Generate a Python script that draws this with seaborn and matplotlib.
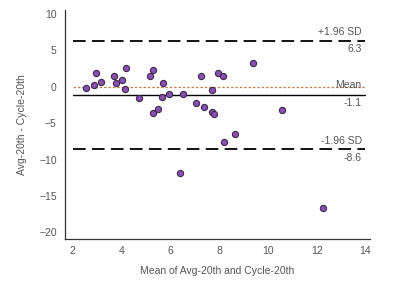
import matplotlib
matplotlib.use('Agg')
import matplotlib.pyplot as plt
import pandas as pd
import seaborn as sns
from matplotlib.ticker import MultipleLocator

# Bland-Altman data
mean_vals = [2.54, 2.86, 2.97, 3.16, 3.71, 3.77, 4.00, 4.19, 4.15, 4.71,
             5.17, 5.29, 5.27, 5.51, 5.72, 5.67, 5.94, 6.51, 7.05, 7.25,
             7.38, 7.69, 7.80, 7.69, 7.95, 8.15, 9.38, 10.58, 8.20, 8.67,
             6.38, 12.26]
diff_vals = [-0.25, 0.20, 1.94, 0.62, 1.44, 0.44, 0.93, 2.58, -0.38, -1.53,
             1.48, 2.30, -3.67, -3.08, 0.44, -1.40, -1.03, -1.03, -2.20, 1.40,
             -2.85, -3.50, -3.72, -0.43, 1.94, 1.53, 3.22, -3.26, -7.56, -6.50,
             -11.80, -16.60]
mean_diff = -1.1
upper_loa = 6.3
lower_loa = -8.6

df = pd.DataFrame({'mean': mean_vals, 'diff': diff_vals})

sns.set_style('white')
plt.rcParams['font.family'] = ['Liberation Sans', 'DejaVu Sans']
txt = '#555555'

fig = plt.figure(figsize=(4, 3.07), dpi=100)
ax = fig.add_axes([0.1625, 0.2215, 0.7625, 0.7455])

sns.scatterplot(data=df, x='mean', y='diff', ax=ax, s=20,
                color='#8a4fb0', edgecolor='#3a2a4a', linewidth=0.8, zorder=3)

# reference lines
ax.plot([2, 14], [upper_loa, upper_loa], color='black', lw=1.3, dashes=(7, 3.5))
ax.plot([2, 14], [lower_loa, lower_loa], color='black', lw=1.3, dashes=(7, 3.5))
ax.plot([2, 14], [mean_diff, mean_diff], color='black', lw=1.0)
ax.plot([2, 14], [0, 0], color='#c8804a', lw=0.9, dashes=(2, 1.5))

fs = 7.5
ax.text(13.85, upper_loa + 0.5, '+1.96 SD', ha='right', va='bottom', fontsize=fs, color=txt)
ax.text(13.85, upper_loa - 0.5, '6.3', ha='right', va='top', fontsize=fs, color=txt)
ax.text(13.85, mean_diff + 0.6, 'Mean', ha='right', va='bottom', fontsize=fs, color=txt)
ax.text(13.85, mean_diff - 0.5, '-1.1', ha='right', va='top', fontsize=fs, color=txt)
ax.text(13.85, lower_loa + 0.5, '-1.96 SD', ha='right', va='bottom', fontsize=fs, color=txt)
ax.text(13.85, lower_loa - 0.5, '-8.6', ha='right', va='top', fontsize=fs, color=txt)

ax.set(xlim=(1.68, 14.19), ylim=(-20.9, 10.5))
ax.xaxis.set_major_locator(MultipleLocator(2))
ax.xaxis.set_minor_locator(MultipleLocator(1))
ax.yaxis.set_major_locator(MultipleLocator(5))
ax.tick_params(axis='x', direction='in', length=4, width=0.8, colors='#333333',
               labelcolor=txt, labelsize=fs, pad=5)
ax.tick_params(axis='x', which='minor', direction='in', length=2, width=0.7, colors='#333333')
ax.tick_params(axis='y', direction='out', length=4, width=0.8, colors='#333333',
               labelcolor=txt, labelsize=fs, pad=2)
sns.despine(ax=ax)
for sp in ['left', 'bottom']:
    ax.spines[sp].set_color('#333333')
    ax.spines[sp].set_linewidth(0.9)

ax.set_xlabel('Mean of Avg-20th and Cycle-20th', fontsize=fs, color=txt, labelpad=7)
ax.set_ylabel('Avg-20th - Cycle-20th', fontsize=fs, color=txt, labelpad=9)

fig.savefig('out.png', dpi=100)
